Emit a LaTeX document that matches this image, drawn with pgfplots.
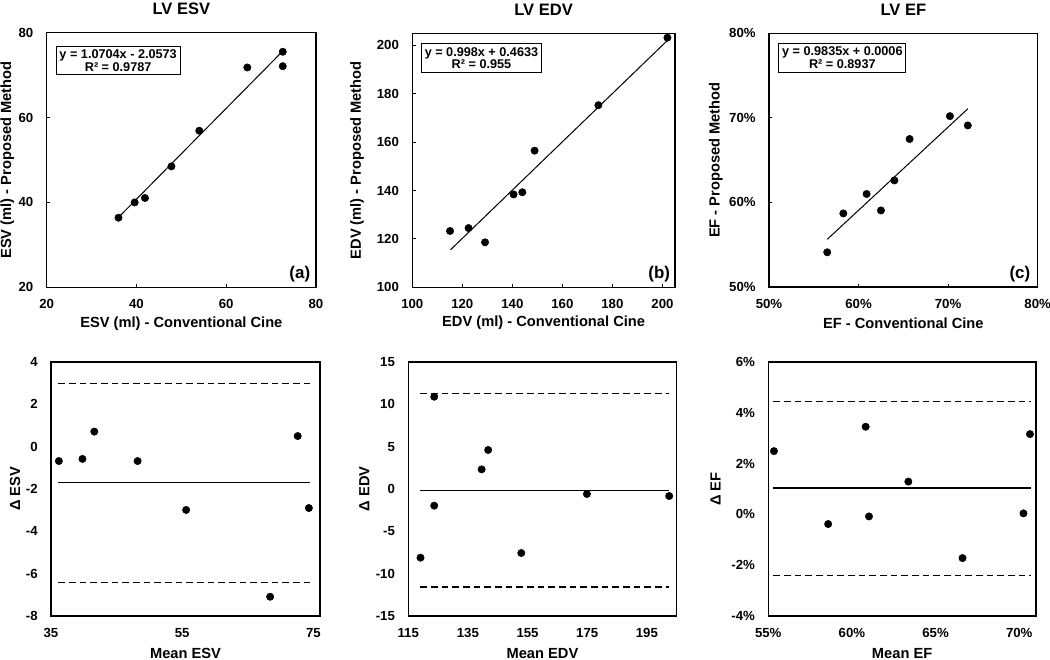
\documentclass[border=0pt]{standalone}
\usepackage{fontspec}
\setmainfont{Liberation Sans}
\usepackage{pgfplots}
\pgfplotsset{compat=1.18}

\pgfplotsset{
  base/.style={
    scale only axis, anchor=south west,
    axis line style={line width=1pt},
    /pgf/number format/assume math mode=true,
    tick label style={font=\fontsize{9.9}{11}\selectfont\bfseries},
    label style={font=\fontsize{11}{13}\selectfont\bfseries},
    title style={font=\fontsize{12.4}{14}\selectfont\bfseries, at={(0.5,1.0625)}, anchor=center},
    tick pos=left,
    yticklabel style={xshift=-6.5pt},
    xticklabel style={yshift=-5.6pt},
    clip=false,
  },
  toprow/.style={base, tick align=inside, major tick length=2.5pt, tick style={black, line width=0.75pt},
    xlabel style={at={(axis description cs:0.5,-0.141)}, anchor=center}},
  botrow/.style={base, major tick length=0pt,
    xlabel style={at={(axis description cs:0.5,-0.146)}, anchor=center}},
}
\tikzset{
  fit/.style={black, line width=0.75pt},
  solidl/.style={black, line width=1.1pt},
  dashl/.style={black, line width=1.1pt, dash pattern=on 5pt off 3pt},
  eqbox/.style={draw, line width=0.75pt, fill=white, anchor=north west, align=center,
    font=\fontsize{9.5}{9.3}\selectfont\bfseries, inner xsep=2.5pt, inner ysep=2.8pt},
  panlab/.style={anchor=center, font=\fontsize{12.7}{14}\selectfont\bfseries},
}

\begin{document}
\begin{tikzpicture}
\path[use as bounding box] (0,0) rectangle (787.5pt,495pt);

% (a) LV ESV
\begin{axis}[toprow, at={(35.0pt,279.5pt)}, width=202.0pt, height=191.0pt,
  xmin=20, xmax=80, ymin=20, ymax=80, xtick={20,40,60,80}, ytick={20,40,60,80},
  title={LV ESV}, xlabel={ESV (ml) - Conventional Cine}, ylabel={ESV (ml) - Proposed Method},
  ylabel style={at={(axis description cs:-0.146,0.5)}, anchor=center}]
\addplot[fit, no marks] coordinates {(36.0,36.48) (72.5,75.55)};
\addplot[only marks, mark=*, mark size=2.75pt, black] coordinates {(36.0,36.4) (39.6,40.0) (41.9,41.05) (47.8,48.5) (54.0,56.9) (64.7,71.8) (72.6,75.5) (72.6,72.1)};
\node[eqbox] at (axis description cs:0.0334,0.949) {y = 1.0704x - 2.0573\\R² = 0.9787};
\node[panlab] at (axis description cs:0.94,0.052) {(a)};
\end{axis}

% (b) LV EDV
\begin{axis}[toprow, at={(309.2pt,279.5pt)}, width=197.0pt, height=190.5pt,
  xmin=100, xmax=205, ymin=100, ymax=205, xtick={100,120,140,160,180,200}, ytick={100,120,140,160,180,200},
  title={LV EDV}, xlabel={EDV (ml) - Conventional Cine}, ylabel={EDV (ml) - Proposed Method},
  ylabel style={at={(axis description cs:-0.21,0.5)}, anchor=center}]
\addplot[fit, no marks] coordinates {(115.3,115.53) (201.8,201.86)};
\addplot[only marks, mark=*, mark size=2.75pt, black] coordinates {(115.1,123.3) (122.5,124.5) (129.1,118.6) (140.5,138.4) (144.0,139.3) (148.9,156.5) (174.4,175.3) (202.0,203.2)};
\node[eqbox] at (axis description cs:0.033,0.961) {y = 0.998x + 0.4633\\R² = 0.955};
\node[panlab] at (axis description cs:0.94,0.052) {(b)};
\end{axis}

% (c) LV EF
\begin{axis}[toprow, at={(576.75pt,279.75pt)}, width=201.5pt, height=190.3pt,
  xmin=50, xmax=80, ymin=50, ymax=80, xtick={50,60,70,80}, ytick={50,60,70,80},
  xticklabel={\pgfmathprintnumber{\tick}\%}, yticklabel={\pgfmathprintnumber{\tick}\%},
  title={LV EF}, xlabel={EF - Conventional Cine}, ylabel={EF - Proposed Method},
  ylabel style={at={(axis description cs:-0.198,0.5)}, anchor=center}]
\addplot[fit, no marks] coordinates {(56.5,55.63) (72.2,71.07)};
\addplot[only marks, mark=*, mark size=2.75pt, black] coordinates {(56.5,54.1) (58.3,58.7) (60.9,61.0) (62.5,59.05) (64.0,62.6) (65.7,67.5) (70.2,70.2) (72.2,69.1)};
\node[eqbox] at (axis description cs:0.0346,0.963) {y = 0.9835x + 0.0006\\R² = 0.8937};
\node[panlab] at (axis description cs:0.934,0.052) {(c)};
\end{axis}

% (d) Bland-Altman ESV
\begin{axis}[botrow, at={(38.25pt,33pt)}, width=201.75pt, height=190.5pt,
  xmin=35, xmax=76, ymin=-8, ymax=4, xtick={35,55,75}, ytick={-8,-6,-4,-2,0,2,4},
  xlabel={Mean ESV}, ylabel={Δ ESV},
  ylabel style={at={(axis description cs:-0.134,0.5)}, anchor=center}]
\addplot[dashl, no marks] coordinates {(36.1,2.99) (74.4,2.99)};
\addplot[dashl, no marks] coordinates {(36.1,-6.41) (74.4,-6.41)};
\addplot[solidl, no marks] coordinates {(36.1,-1.70) (74.4,-1.70)};
\addplot[only marks, mark=*, mark size=2.75pt, black] coordinates {(36.2,-0.68) (39.8,-0.58) (41.6,0.71) (48.2,-0.68) (55.6,-2.99) (68.4,-7.09) (72.6,0.50) (74.3,-2.90)};
\end{axis}

% (e) Bland-Altman EDV
\begin{axis}[botrow, at={(306.2pt,33pt)}, width=201.3pt, height=190.5pt,
  xmin=115, xmax=205, ymin=-15, ymax=15, xtick={115,135,155,175,195}, ytick={-15,-10,-5,0,5,10,15},
  xlabel={Mean EDV}, ylabel={Δ EDV},
  ylabel style={at={(axis description cs:-0.164,0.5)}, anchor=center}]
\addplot[dashl, no marks] coordinates {(119.1,11.3) (202.5,11.3)};
\addplot[dashl, no marks] coordinates {(119.1,-11.6) (202.5,-11.6)};
\addplot[solidl, no marks] coordinates {(119.1,-0.2) (202.5,-0.2)};
\addplot[only marks, mark=*, mark size=2.75pt, black] coordinates {(119.1,-8.11) (123.7,10.9) (123.7,-1.97) (139.6,2.32) (141.8,4.61) (152.9,-7.56) (174.9,-0.59) (202.5,-0.83)};
\end{axis}

% (f) Bland-Altman EF
\begin{axis}[botrow, at={(576.2pt,33pt)}, width=200.8pt, height=190.5pt,
  xmin=55, xmax=71, ymin=-4, ymax=6, xtick={55,60,65,70}, ytick={-4,-2,0,2,4,6},
  xticklabel={\pgfmathprintnumber{\tick}\%}, yticklabel={\pgfmathprintnumber{\tick}\%},
  xlabel={Mean EF}, ylabel={Δ EF},
  ylabel style={at={(axis description cs:-0.197,0.5)}, anchor=center}]
\addplot[dashl, no marks] coordinates {(55.3,4.45) (70.7,4.45)};
\addplot[dashl, no marks] coordinates {(55.3,-2.40) (70.7,-2.40)};
\addplot[solidl, no marks] coordinates {(55.3,1.04) (70.7,1.04)};
\addplot[only marks, mark=*, mark size=2.75pt, black] coordinates {(55.34,2.49) (58.58,-0.38) (60.82,3.45) (61.02,-0.08) (63.37,1.29) (66.61,-1.72) (70.25,0.04) (70.64,3.16)};
\end{axis}
\end{tikzpicture}
\end{document}
